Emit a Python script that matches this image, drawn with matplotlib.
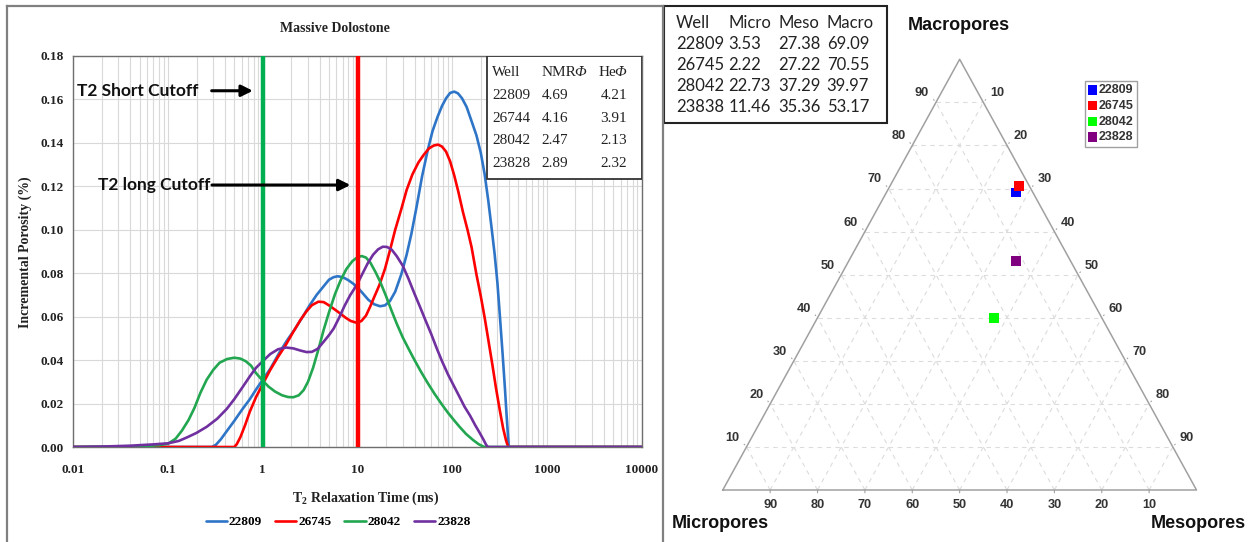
import numpy as np
import matplotlib
matplotlib.use("Agg")
import matplotlib.pyplot as plt
from matplotlib.lines import Line2D
from matplotlib.patches import Rectangle
from matplotlib.font_manager import FontProperties
from matplotlib.ticker import LogLocator, NullFormatter, FixedLocator, FixedFormatter

plt.rcParams["mathtext.fontset"] = "custom"
plt.rcParams["mathtext.rm"] = "Liberation Serif"
plt.rcParams["mathtext.it"] = "Liberation Serif:italic"
plt.rcParams["mathtext.bf"] = "Liberation Serif:bold"

# ---------------- T2 distributions (Massive Dolostone) ----------------
wells = ["22809", "26745", "28042", "23828"]
line_colors = ["#2e75c8", "#ff0000", "#22a650", "#7030a0"]

t2_22809 = [0.01, 0.29, 0.32, 0.36, 0.42, 0.5, 0.6, 0.73, 0.85, 1.0, 1.2, 1.5, 1.8, 2.2, 2.6,
            3.1, 3.7, 4.3, 5.0, 5.6, 6.2, 7.0, 8.0, 9.0, 10, 11.5, 13, 15, 17.3, 19.5, 22, 25,
            29, 33, 37, 42, 48, 55, 62, 70, 78, 86, 95, 105, 115, 127, 142, 160, 180, 200, 220,
            240, 260, 280, 300, 320, 340, 360, 375, 388, 395, 10000]
por_22809 = [0, 0, 0.001, 0.0035, 0.0075, 0.012, 0.017, 0.022, 0.0265, 0.031, 0.036, 0.0435,
             0.049, 0.0545, 0.0595, 0.065, 0.070, 0.0735, 0.077, 0.0782, 0.0786, 0.0782, 0.0768,
             0.0752, 0.0735, 0.0705, 0.0678, 0.0657, 0.0648, 0.0652, 0.0672, 0.0715, 0.0795,
             0.0885, 0.098, 0.1105, 0.1245, 0.1365, 0.1455, 0.152, 0.157, 0.1605, 0.163, 0.1636,
             0.1628, 0.1605, 0.1565, 0.150, 0.1435, 0.1355, 0.1255, 0.1135, 0.101, 0.089,
             0.0755, 0.059, 0.043, 0.027, 0.0145, 0.005, 0.0, 0]

t2_26745 = [0.01, 0.5, 0.53, 0.58, 0.65, 0.73, 0.85, 1.0, 1.2, 1.45, 1.75, 2.1, 2.5, 2.9, 3.3,
            3.87, 4.4, 5.0, 5.8, 6.5, 7.5, 8.5, 9.8, 11, 12.3, 13.6, 15, 17, 19.5, 22, 25, 29,
            33, 38, 44, 50, 57, 64, 71, 78, 86, 95, 105, 116, 130, 145, 160, 180, 200, 220, 240,
            265, 290, 319, 345, 370, 390, 10000]
por_26745 = [0, 0, 0.0012, 0.0045, 0.010, 0.0163, 0.023, 0.029, 0.0355, 0.0415, 0.047, 0.053,
             0.0585, 0.0625, 0.0653, 0.0669, 0.0667, 0.0652, 0.0632, 0.0616, 0.0595, 0.058,
             0.0572, 0.058, 0.0605, 0.0646, 0.069, 0.0745, 0.082, 0.0905, 0.100, 0.1095, 0.1183,
             0.1255, 0.131, 0.1345, 0.1375, 0.1388, 0.1392, 0.1383, 0.136, 0.1315, 0.125,
             0.1175, 0.108, 0.100, 0.092, 0.0795, 0.0695, 0.0595, 0.0495, 0.038, 0.027, 0.0165,
             0.0085, 0.003, 0, 0]

t2_28042 = [0.01, 0.05, 0.08, 0.1, 0.12, 0.14, 0.165, 0.19, 0.22, 0.256, 0.3, 0.35, 0.42, 0.5,
            0.58, 0.66, 0.75, 0.85, 1.0, 1.15, 1.35, 1.6, 1.85, 2.1, 2.4, 2.7, 3.0, 3.4, 3.9,
            4.4, 5.0, 5.8, 6.6, 7.6, 8.8, 10, 11.1, 12.3, 13.7, 15.5, 17.3, 20, 23, 26, 30, 35,
            40, 47, 55, 65, 78, 90, 105, 120, 140, 165, 190, 210, 220, 10000]
por_28042 = [0, 0.0003, 0.0008, 0.0015, 0.0038, 0.0075, 0.0125, 0.018, 0.025, 0.031, 0.0355,
             0.0388, 0.0405, 0.0411, 0.0407, 0.0395, 0.0375, 0.034, 0.0305, 0.0278, 0.0255,
             0.0238, 0.023, 0.0229, 0.0238, 0.0262, 0.030, 0.0365, 0.0455, 0.054, 0.062, 0.0705,
             0.0765, 0.0818, 0.0855, 0.0874, 0.0879, 0.0872, 0.0848, 0.0805, 0.0762, 0.0695,
             0.0625, 0.0567, 0.0505, 0.0448, 0.040, 0.0345, 0.0295, 0.0245, 0.0195, 0.0158,
             0.0122, 0.0092, 0.006, 0.0033, 0.0013, 0.0003, 0, 0]

t2_23828 = [0.01, 0.02, 0.04, 0.07, 0.1, 0.13, 0.16, 0.2, 0.256, 0.33, 0.416, 0.5, 0.6, 0.73,
            0.85, 1.0, 1.2, 1.45, 1.75, 2.1, 2.5, 2.9, 3.3, 3.8, 4.4, 5.0, 5.6, 6.4, 7.3, 8.4,
            9.8, 11.2, 12.8, 14.6, 16.5, 18.5, 20.5, 23, 26, 30, 34.5, 40, 45.7, 52, 60, 68.5,
            78, 90, 103, 118, 135, 154, 175, 195, 213, 228, 238, 10000]
por_23828 = [0, 0.0002, 0.0006, 0.0012, 0.0017, 0.0028, 0.0045, 0.0065, 0.0093, 0.013, 0.0175,
             0.022, 0.027, 0.0325, 0.0365, 0.0395, 0.0428, 0.045, 0.0458, 0.0454, 0.0444,
             0.0437, 0.0438, 0.0452, 0.0485, 0.0515, 0.0545, 0.0595, 0.065, 0.070, 0.0745,
             0.0795, 0.0845, 0.0885, 0.091, 0.0922, 0.0921, 0.0908, 0.0878, 0.0835, 0.0775,
             0.0705, 0.0645, 0.0585, 0.052, 0.0455, 0.0395, 0.0335, 0.0285, 0.0235, 0.0185,
             0.0145, 0.010, 0.0065, 0.0035, 0.001, 0, 0]

x_ticks = [0.01, 0.1, 1, 10, 100, 1000, 10000]
x_tick_labels = ["0.01", "0.1", "1", "10", "100", "1000", "10000"]
y_ticks = [0.00, 0.02, 0.04, 0.06, 0.08, 0.10, 0.12, 0.14, 0.16, 0.18]

short_cutoff = 1.0
long_cutoff = 10.0

# porosity summary table
table_wells = ["22809", "26744", "28042", "23828"]
nmr_phi = [4.69, 4.16, 2.47, 2.89]
he_phi = [4.21, 3.91, 2.13, 2.32]

# ---------------- pore-size fractions (ternary) ----------------
frac_wells = ["22809", "26745", "28042", "23838"]
legend_wells = ["22809", "26745", "28042", "23828"]
micro = [3.53, 2.22, 22.73, 11.46]
meso = [27.38, 27.22, 37.29, 35.36]
macro = [69.09, 70.55, 39.97, 53.17]
marker_colors = ["#0000ff", "#ff0000", "#00ff00", "#800080"]

# ======================================================================
W, H = 1252, 542
fig = plt.figure(figsize=(W / 100, H / 100), dpi=100)


def fx(px):
    return px / W


def fy(py):
    return 1 - py / H


serif_b = dict(family="Liberation Serif", weight="bold")

# panel frame
frame_kw = dict(transform=fig.transFigure, color="#808080", lw=1.6)
fig.add_artist(Line2D([fx(7), fx(663)], [fy(6), fy(6)], **frame_kw))
fig.add_artist(Line2D([fx(7), fx(7)], [fy(6), fy(545)], **frame_kw))
fig.add_artist(Line2D([fx(663), fx(663)], [fy(6), fy(545)], **frame_kw))

ax = fig.add_axes([fx(73.3), fy(447), (641.7 - 73.3) / W, (447 - 56) / H])
series = [(t2_22809, por_22809), (t2_26745, por_26745), (t2_28042, por_28042), (t2_23828, por_23828)]
handles = []
for (t, p), c, name in zip(series, line_colors, wells):
    h, = ax.plot(t, p, color=c, lw=1.9, label=name, zorder=3,
                 solid_capstyle="round", solid_joinstyle="round")
    handles.append(h)

ax.axvline(short_cutoff, color="#00b050", lw=3.2, zorder=4)
ax.axvline(long_cutoff, color="#ff0000", lw=3.2, zorder=4)

ax.set_xscale("log")
ax.set_xlim(0.01, 10000)
ax.set_ylim(0, 0.18)
ax.xaxis.set_major_locator(FixedLocator(x_ticks))
ax.xaxis.set_major_formatter(FixedFormatter(x_tick_labels))
ax.xaxis.set_minor_locator(LogLocator(base=10, subs=range(2, 10), numticks=100))
ax.xaxis.set_minor_formatter(NullFormatter())
ax.set_yticks(y_ticks)
ax.set_yticklabels([f"{v:.2f}" for v in y_ticks])
ax.grid(which="both", axis="x", color="#d9d9d9", lw=0.8, zorder=0)
ax.grid(which="major", axis="y", color="#d9d9d9", lw=0.8, zorder=0)
ax.set_axisbelow(True)
ax.tick_params(which="both", length=0)
ax.tick_params(axis="y", pad=7)
ax.tick_params(axis="x", pad=12)
for lab in ax.get_xticklabels() + ax.get_yticklabels():
    lab.set_fontproperties(FontProperties(size=9.5, **serif_b))
    lab.set_color("#222222")
for s in ax.spines.values():
    s.set_color("#6e6e6e")
    s.set_linewidth(1.0)

ax.text(0.4604, 1.0698, "Massive Dolostone", transform=ax.transAxes, ha="center", va="center",
        fontsize=10, color="#222222", **serif_b)
ax.set_xlabel(r"$\mathbf{T_2}$ Relaxation Time (ms)", fontsize=10, color="#222222", **serif_b)
ax.xaxis.set_label_coords(0.515, -0.11)
ax.set_ylabel("Incremental Porosity (%)", fontsize=10, color="#222222", **serif_b)
ax.yaxis.set_label_coords(-0.0727, 0.4987)

# cutoff callouts
cut_font = dict(family="Lato", weight="bold", size=12.5, color="#111111")
ax.text(0.0109, 0.164, "T2 Short Cutoff", ha="left", va="center", zorder=6, **cut_font)
ax.annotate("", xy=(0.84, 0.164), xytext=(0.27, 0.164),
            arrowprops=dict(arrowstyle="-|>", color="black", lw=2.2, mutation_scale=17), zorder=6)
ax.text(0.0184, 0.1206, "T2 long Cutoff", ha="left", va="center", zorder=6, **cut_font)
ax.annotate("", xy=(9.0, 0.1206), xytext=(0.272, 0.1206),
            arrowprops=dict(arrowstyle="-|>", color="black", lw=2.2, mutation_scale=17), zorder=6)

# porosity table inside the plot
ax.add_patch(Rectangle((0.7287, 0.6867), 0.2713, 0.3133, transform=ax.transAxes,
                       facecolor="white", edgecolor="#333333", lw=1.3, zorder=6))
tab_font = dict(family="Liberation Serif", size=11, color="#222222", zorder=7)
row_y = [0.959, 0.898, 0.841, 0.783, 0.726]
ax.text(0.7366, row_y[0], "Well", transform=ax.transAxes, ha="left", va="center", **tab_font)
hdr_nmr = ax.text(0.824, row_y[0], "NMR", transform=ax.transAxes, ha="left", va="center", **tab_font)
ax.annotate("Φ", xy=(1, 0.5), xycoords=hdr_nmr, xytext=(-1.5, 0), textcoords="offset points",
            ha="left", va="center", style="italic", **tab_font)
hdr_he = ax.text(0.9743 - 0.019, row_y[0], "He", transform=ax.transAxes, ha="right", va="center", **tab_font)
ax.annotate("Φ", xy=(1, 0.5), xycoords=hdr_he, xytext=(-1.5, 0), textcoords="offset points",
            ha="left", va="center", style="italic", **tab_font)
for yy, w, n, he in zip(row_y[1:], table_wells, nmr_phi, he_phi):
    ax.text(0.7366, yy, w, transform=ax.transAxes, ha="left", va="center", **tab_font)
    ax.text(0.824, yy, f"{n:.2f}", transform=ax.transAxes, ha="left", va="center", **tab_font)
    ax.text(0.9743, yy, f"{he:.2f}", transform=ax.transAxes, ha="right", va="center", **tab_font)

ax.legend(handles=handles, loc="center", bbox_to_anchor=(fx(338), fy(522)),
          bbox_transform=fig.transFigure, ncol=4, frameon=False,
          prop=FontProperties(size=9.5, **serif_b), handlelength=1.6, handletextpad=0.15,
          columnspacing=1.0)

# ---------------- ternary diagram ----------------
tax = fig.add_axes([fx(722.8), fy(490), (1196.5 - 722.8) / W, (490 - 59.3) / H])
tax.set_xlim(0, 100)
tax.set_ylim(0, 100)
tax.axis("off")


def tern(mi, me, ma):
    tot = mi + me + ma
    return (me + ma / 2) / tot * 100, ma / tot * 100


grid_kw = dict(color="#dcdcdc", lw=0.8, dashes=(4, 4), zorder=1)
for k in range(10, 100, 10):
    for a, b in [(tern(100 - k, 0, k), tern(0, 100 - k, k)),
                 (tern(100 - k, k, 0), tern(0, k, 100 - k)),
                 (tern(k, 100 - k, 0), tern(k, 0, 100 - k))]:
        tax.plot([a[0], b[0]], [a[1], b[1]], **grid_kw)

corners = [tern(100, 0, 0), tern(0, 100, 0), tern(0, 0, 100), tern(100, 0, 0)]
tax.plot([c[0] for c in corners], [c[1] for c in corners], color="#a0a0a0", lw=1.1, zorder=2,
         clip_on=False)

tick_font = dict(family="Liberation Sans", weight="bold", size=9.2, color="#333333")
tick_kw = dict(arrowstyle="-", color="#a0a0a0", lw=0.8)
for k in range(10, 100, 10):
    p = tern(100 - k, 0, k)
    tax.annotate("", xy=p, xytext=(-3, 3.5), textcoords="offset points", arrowprops=tick_kw,
                 annotation_clip=False)
    tax.annotate(str(k), xy=p, xytext=(-10, 6.5), textcoords="offset points",
                 ha="center", va="center", annotation_clip=False, **tick_font)
    p = tern(0, k, 100 - k)
    tax.annotate("", xy=p, xytext=(3, 3.5), textcoords="offset points", arrowprops=tick_kw,
                 annotation_clip=False)
    tax.annotate(str(k), xy=p, xytext=(10, 6.5), textcoords="offset points",
                 ha="center", va="center", annotation_clip=False, **tick_font)
    p = tern(k, 100 - k, 0)
    tax.annotate("", xy=p, xytext=(0, -4), textcoords="offset points", arrowprops=tick_kw,
                 annotation_clip=False)
    tax.annotate(str(k), xy=p, xytext=(0, -11), textcoords="offset points",
                 ha="center", va="center", annotation_clip=False, **tick_font)

pts = [tern(a, b, c) for a, b, c in zip(micro, meso, macro)]
for (px_, py_), col, name in zip(pts, marker_colors, legend_wells):
    tax.scatter([px_], [py_], marker="s", s=48, color=col, edgecolors="none", zorder=5,
                label=name, clip_on=False)

leg2 = tax.legend(loc="upper left", bbox_to_anchor=(fx(1085), fy(81)), bbox_transform=fig.transFigure,
                  frameon=True, fancybox=False, edgecolor="#8a8a8a", borderpad=0.25,
                  handlelength=0.7, handletextpad=0.15, labelspacing=0.3, borderaxespad=0,
                  prop=FontProperties(family="Liberation Sans", weight="bold", size=9))
leg2.get_frame().set_linewidth(1.0)
for txt in leg2.get_texts():
    txt.set_color("#333333")

corner_font = dict(family="Liberation Sans", weight="bold", size=13, color="#111111")
fig.text(fx(959), fy(26), "Macropores", ha="center", va="center", **corner_font)
fig.text(fx(720.5), fy(523), "Micropores", ha="center", va="center", **corner_font)
fig.text(fx(1198), fy(523), "Mesopores", ha="center", va="center", **corner_font)

# pore fraction table
fig.add_artist(Rectangle((fx(664), fy(123.3)), (886.7 - 664) / W, (123.3 - 6) / H,
                         transform=fig.transFigure, fill=False, edgecolor="#222222", lw=1.5))
ft = dict(family="Lato", size=12, color="#222222", va="center", ha="left")
col_x = [676, 728.3, 778.3, 826.7]
trow_y = [23.3, 44, 65, 86, 106.7]
for x, hdr in zip(col_x, ["Well", "Micro", "Meso", "Macro"]):
    fig.text(fx(x), fy(trow_y[0]), hdr, **ft)
for yy, w, a, b, c in zip(trow_y[1:], frac_wells, micro, meso, macro):
    fig.text(fx(col_x[0]), fy(yy), w, **ft)
    fig.text(fx(col_x[1]), fy(yy), f"{a:.2f}", **ft)
    fig.text(fx(col_x[2]), fy(yy), f"{b:.2f}", **ft)
    fig.text(fx(col_x[3]), fy(yy), f"{c:.2f}", **ft)

fig.savefig("out.png", dpi=100)
